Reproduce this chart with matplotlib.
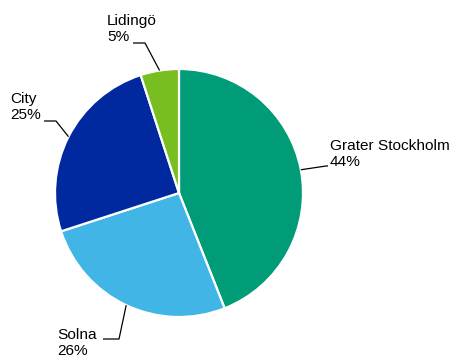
import numpy as np
import matplotlib.pyplot as plt

plt.rcParams['font.family'] = ['Liberation Sans', 'DejaVu Sans']

# --- Data ---
labels = ['Grater Stockholm', 'Solna', 'City', 'Lidingö']
shares = [44, 26, 25, 5]
colors = ['#009B77', '#41B6E6', '#0029A0', '#78BE20']

# --- Layout (pixel space, y pointing down) ---
CENTER = (179, 193)
RADIUS = 124
# elbow point and end of horizontal segment for each leader line
elbows = [(326, 166), (119, 339), (56, 121), (145, 43)]
ends = [(328, 166), (103, 339), (44, 121), (133, 43)]
text_pos = [(330, 154), (57, 343), (10, 107), (107, 29)]


def main():
    fig = plt.figure(figsize=(4.52, 3.6), dpi=100)
    ax = fig.add_axes([0, 0, 1, 1])
    ax.set_xlim(0, 452)
    ax.set_ylim(360, 0)
    ax.set_aspect('equal')
    ax.axis('off')

    # y axis is flipped, so counterclock=True draws clockwise on screen
    wedges, _ = ax.pie(shares, colors=colors, center=CENTER, radius=RADIUS,
                       startangle=-90, counterclock=True,
                       wedgeprops=dict(edgecolor='white', linewidth=1.6))
    ax.set_xlim(0, 452)
    ax.set_ylim(360, 0)

    total = sum(shares)
    cum = 0
    for i, (lab, val) in enumerate(zip(labels, shares)):
        mid = (cum + val / 2) / total
        cum += val
        ang = np.deg2rad(90 - mid * 360)
        x0 = CENTER[0] + RADIUS * np.cos(ang)
        y0 = CENTER[1] - RADIUS * np.sin(ang)
        ex, ey = elbows[i]
        hx, hy = ends[i]
        ax.plot([x0, ex, hx], [y0, ey, hy], color='black', lw=0.9,
                solid_capstyle='butt')
        tx, ty = text_pos[i]
        ax.text(tx, ty, f'{lab}\n{val}%', fontsize=11.1, color='black',
                ha='left', va='center', linespacing=1.2)

    fig.savefig('out.png', dpi=100)


if __name__ == "__main__":
    main()
